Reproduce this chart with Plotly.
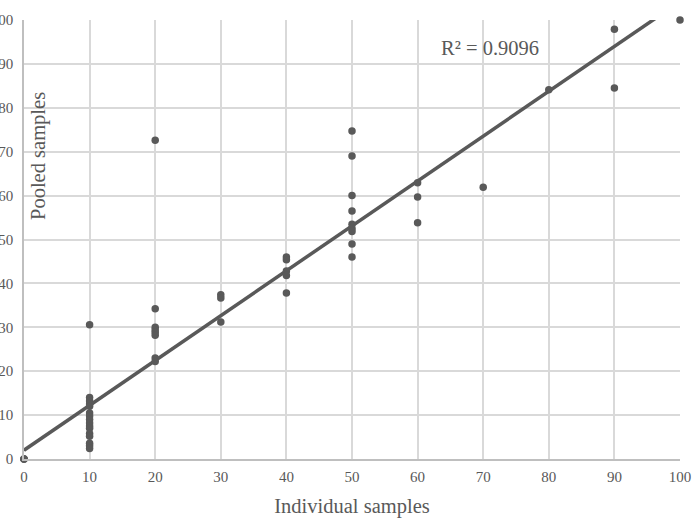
import plotly.graph_objects as go

individual = [0, 0, 0,
              10, 10, 10, 10, 10, 10, 10, 10, 10, 10, 10, 10, 10, 10, 10, 10,
              20, 20, 20, 20, 20, 20, 20, 20,
              30, 30, 30,
              40, 40, 40, 40, 40,
              50, 50, 50, 50, 50, 50, 50, 50, 50,
              60, 60, 60,
              70,
              80,
              90, 90,
              100]
pooled = [0, 0, 0,
          30.6, 14.0, 13.2, 12.5, 12.0, 10.5, 9.8, 9.0, 8.2, 7.5, 7.0, 5.8, 5.2, 3.6, 3.0, 2.4,
          72.6, 34.2, 30.0, 29.4, 28.8, 28.2, 23.0, 22.2,
          37.4, 36.7, 31.2,
          46.0, 45.4, 42.8, 41.8, 37.8,
          74.7, 69.0, 60.0, 56.5, 53.5, 52.5, 51.8, 49.0, 46.0,
          62.9, 59.7, 53.8,
          61.9,
          84.1,
          97.9, 84.5,
          100]
# linear trendline as shown in the chart (read at its two ends)
trend_x = [0, 100]
trend_y = [2.0, 104.2]
tick_vals = [0, 10, 20, 30, 40, 50, 60, 70, 80, 90, 100]
r2_label = "R² = 0.9096"

GREY = "#595959"
FONT = "Liberation Serif"
TITLE_SIZE = 20.5

fig = go.Figure()
fig.add_trace(go.Scatter(x=trend_x, y=trend_y, mode="lines", cliponaxis=True,
                         line=dict(color=GREY, width=3.5), hoverinfo="skip"))
fig.add_trace(go.Scatter(x=individual, y=pooled, mode="markers", cliponaxis=False,
                         marker=dict(color=GREY, size=7.5)))

fig.update_layout(
    width=692, height=519,
    margin=dict(l=24, r=12, t=20, b=60, autoexpand=False),
    plot_bgcolor="white", paper_bgcolor="white",
    showlegend=False,
    font=dict(family=FONT, color=GREY, size=15),
    xaxis=dict(range=[0, 100], tickvals=tick_vals, showgrid=True, automargin=False,
               gridcolor="#d9d9d9", gridwidth=1.5, zeroline=False,
               showline=True, linecolor="#bfbfbf", linewidth=1.5,
               ticks="", ticklabelstandoff=3,
               title=dict(text="Individual samples",
                          font=dict(size=TITLE_SIZE, family=FONT, color=GREY),
                          standoff=15)),
    yaxis=dict(range=[0, 100], tickvals=tick_vals, showgrid=True, automargin=False,
               gridcolor="#d9d9d9", gridwidth=1.5, zeroline=False,
               showline=True, linecolor="#bfbfbf", linewidth=1.5,
               ticks="", ticklabelstandoff=6),
)
fig.add_annotation(text="Pooled samples", textangle=-90, xref="paper", yref="paper",
                   x=(38 - 24) / 656, y=(459 - 156) / 439, xanchor="center", yanchor="middle",
                   showarrow=False, font=dict(size=TITLE_SIZE, family=FONT, color=GREY))
fig.add_annotation(text=r2_label, xref="x", yref="y", x=71, y=93.6,
                   xanchor="center", yanchor="middle", showarrow=False,
                   font=dict(size=TITLE_SIZE, family=FONT, color=GREY))
fig.write_html("out.html")
